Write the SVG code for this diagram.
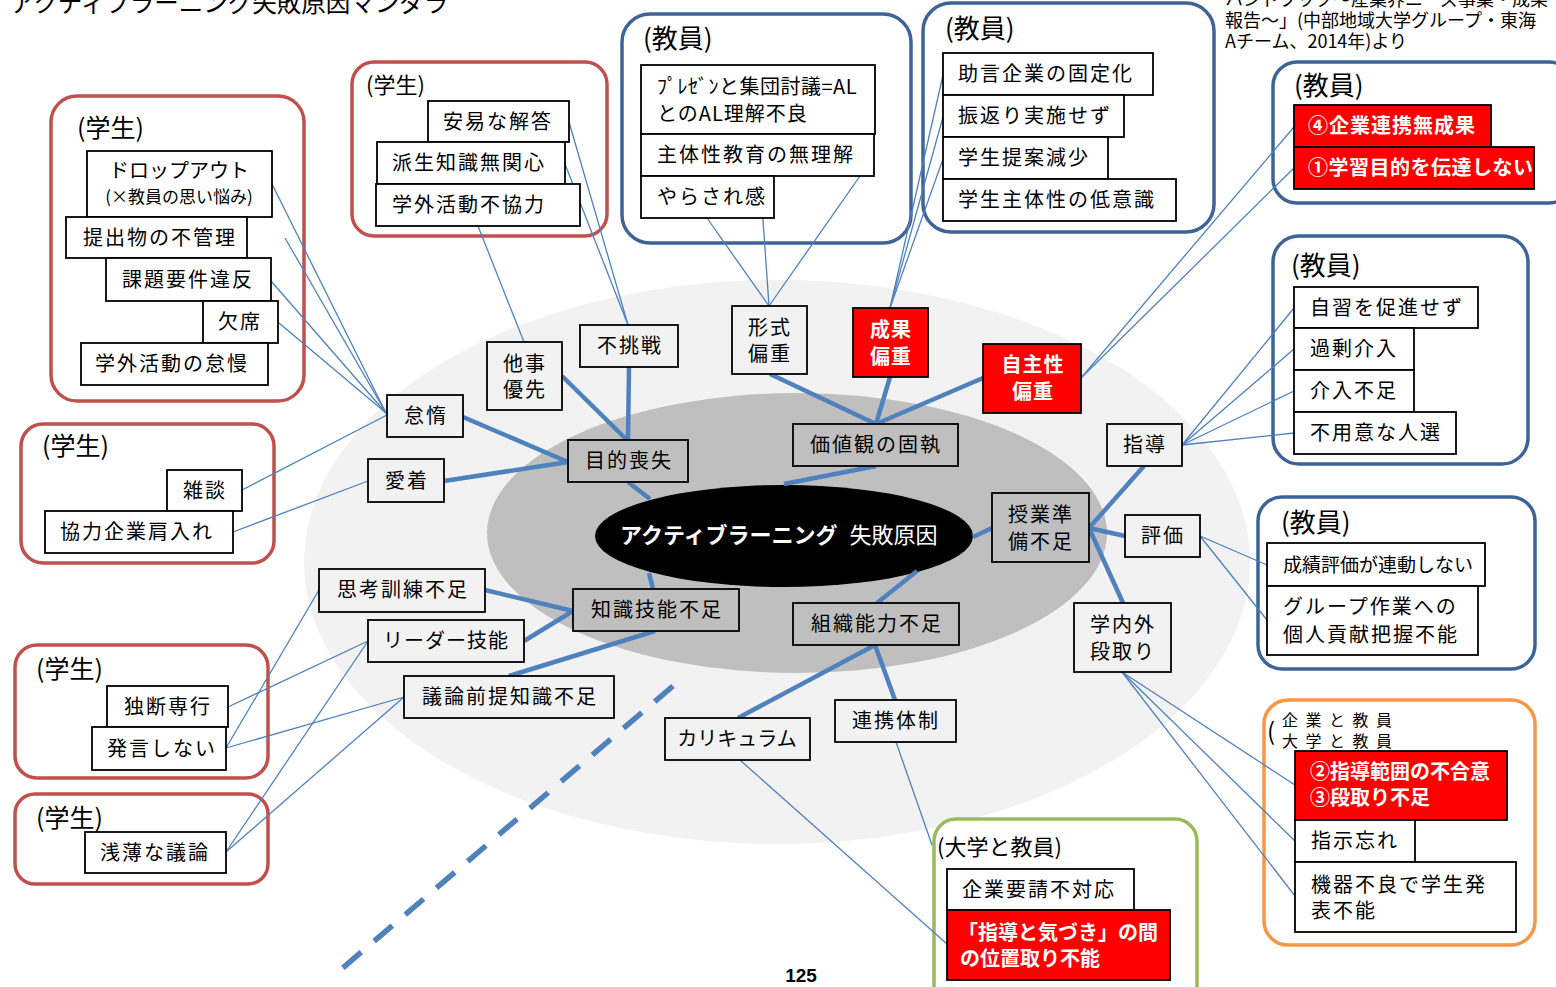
<svg xmlns="http://www.w3.org/2000/svg" width="1556" height="987" viewBox="0 0 1556 987">
<style>
text{font-family:"Noto Sans CJK JP","Noto Sans CJK SC",sans-serif;fill:#000}
.t{font-size:20px;letter-spacing:2px}
.m{text-anchor:middle}
.lbl{font-size:25px}
.b{stroke:#000;stroke-width:1.8}
.in{fill:#bfbfbf}
.out{fill:#f2f2f2}
.wh{fill:#fff}
.rd{fill:#ff0000}
.tw{fill:#fff;font-weight:bold;letter-spacing:1px}
.frR{fill:#fff;stroke:#c0504d;stroke-width:3.5}
.frB{fill:#fff;stroke:#3e6497;stroke-width:3.5}
.frO{fill:#fff;stroke:#f79646;stroke-width:3.5}
.frG{fill:#fff;stroke:#9bbb59;stroke-width:3.5}
.thick line{stroke:#4f81bd;stroke-width:4.5}
.thin line{stroke:#4f81bd;stroke-width:1.3}
</style>
<rect width="1556" height="987" fill="#fff"/>
<text x="10" y="12" style="font-size:24.5px">アクティブラーニング失敗原因マンダラ</text>
<g id="source" style="font-size:18px">
<text x="1225" y="6">ハンドブック～産業界ニーズ事業・成果</text>
<text x="1225" y="27">報告～」(中部地域大学グループ・東海</text>
<text x="1225" y="48">Aチーム、2014年)より</text>
</g>
<g id="background">
<ellipse cx="777" cy="562" rx="473" ry="282" fill="#f2f2f2"/>
<ellipse cx="797" cy="533" rx="310" ry="140" fill="#bfbfbf"/>
</g>
<g id="frames">
<rect class="frR" x="51" y="96" width="253" height="305" rx="26"/>
<text class="lbl" x="77" y="137">(学生)</text>
<rect class="frR" x="352" y="62" width="255" height="174" rx="22"/>
<text x="366" y="93" style="font-size:22px">(学生)</text>
<rect class="frR" x="21" y="424" width="253" height="139" rx="22"/>
<text class="lbl" x="42" y="455">(学生)</text>
<rect class="frR" x="15" y="645" width="253" height="133" rx="22"/>
<text class="lbl" x="36" y="678">(学生)</text>
<rect class="frR" x="15" y="794" width="253" height="90" rx="20"/>
<text class="lbl" x="36" y="827">(学生)</text>
<rect class="frB" x="622" y="14" width="289" height="229" rx="28"/>
<text class="lbl" x="643" y="48" style="font-size:26px">(教員)</text>
<rect class="frB" x="923" y="3" width="291" height="229" rx="28"/>
<text class="lbl" x="945" y="38" style="font-size:26px">(教員)</text>
<rect class="frB" x="1273" y="62" width="300" height="141" rx="24"/>
<text class="lbl" x="1294" y="95" style="font-size:26px">(教員)</text>
<rect class="frB" x="1273" y="236" width="255" height="228" rx="26"/>
<text class="lbl" x="1291" y="275" style="font-size:26px">(教員)</text>
<rect class="frB" x="1258" y="497" width="277" height="172" rx="24"/>
<text class="lbl" x="1281" y="532" style="font-size:26px">(教員)</text>
<rect class="frO" x="1264" y="700" width="271" height="245" rx="24"/>
<text x="1267" y="740" style="font-size:24px">(</text>
<text x="1282" y="726" style="font-size:16px;letter-spacing:7.5px">企業と教員</text>
<text x="1282" y="747" style="font-size:16px;letter-spacing:7.5px">大学と教員</text>
<rect class="frG" x="934" y="819" width="263" height="190" rx="22"/>
<text x="937" y="855" style="font-size:22px">(大学と教員)</text>
</g>
<g id="core">
<ellipse cx="784" cy="536" rx="189" ry="51" fill="#000"/>
<text x="620" y="543" style="font-size:22px;fill:#fff"><tspan style="font-weight:bold;fill:#fff">アクティブラーニング</tspan><tspan style="fill:#fff" dx="12">失敗原因</tspan></text>
</g>
<g id="connectors">
<g class="thin">
<line x1="272" y1="184" x2="386" y2="413"/>
<line x1="285" y1="238" x2="386" y2="413"/>
<line x1="271" y1="281" x2="386" y2="413"/>
<line x1="279" y1="323" x2="386" y2="413"/>
<line x1="242" y1="490" x2="387" y2="415"/>
<line x1="233" y1="532" x2="368" y2="481"/>
<line x1="478" y1="226" x2="524" y2="342"/>
<line x1="569" y1="122" x2="628" y2="325"/>
<line x1="565" y1="164" x2="628" y2="325"/>
<line x1="757" y1="134" x2="769" y2="306"/>
<line x1="874" y1="156" x2="769" y2="306"/>
<line x1="707" y1="218" x2="769" y2="306"/>
<line x1="943" y1="75" x2="890" y2="308"/>
<line x1="943" y1="117" x2="890" y2="308"/>
<line x1="943" y1="159" x2="890" y2="308"/>
<line x1="1081" y1="378" x2="1294" y2="127"/>
<line x1="1081" y1="378" x2="1294" y2="168"/>
<line x1="1182" y1="445" x2="1294" y2="308"/>
<line x1="1182" y1="445" x2="1294" y2="349"/>
<line x1="1182" y1="445" x2="1294" y2="391"/>
<line x1="1182" y1="445" x2="1294" y2="433"/>
<line x1="1200" y1="536" x2="1267" y2="565"/>
<line x1="1200" y1="536" x2="1267" y2="620"/>
<line x1="1122" y1="672" x2="1295" y2="785"/>
<line x1="1122" y1="672" x2="1295" y2="841"/>
<line x1="1122" y1="672" x2="1295" y2="896"/>
<line x1="896" y1="742" x2="932" y2="845"/>
<line x1="740" y1="760" x2="947" y2="944"/>
<line x1="228" y1="707" x2="368" y2="641"/>
<line x1="226" y1="748" x2="319" y2="590"/>
<line x1="226" y1="748" x2="404" y2="697"/>
<line x1="226" y1="852" x2="368" y2="641"/>
<line x1="226" y1="852" x2="404" y2="697"/>
</g>
<g class="thick">
<line x1="463" y1="417" x2="568" y2="462"/>
<line x1="444" y1="481" x2="568" y2="462"/>
<line x1="562" y1="376" x2="627" y2="440"/>
<line x1="629" y1="367" x2="628" y2="440"/>
<line x1="628" y1="482" x2="650" y2="499"/>
<line x1="485" y1="590" x2="573" y2="611"/>
<line x1="524" y1="641" x2="573" y2="611"/>
<line x1="655" y1="631" x2="509" y2="676"/>
<line x1="653" y1="589" x2="649" y2="573"/>
<line x1="770" y1="374" x2="876" y2="424"/>
<line x1="890" y1="377" x2="876" y2="424"/>
<line x1="983" y1="378" x2="876" y2="424"/>
<line x1="876" y1="466" x2="784" y2="484"/>
<line x1="992" y1="528" x2="973" y2="537"/>
<line x1="1144" y1="466" x2="1089" y2="528"/>
<line x1="1125" y1="536" x2="1089" y2="528"/>
<line x1="1123" y1="603" x2="1089" y2="528"/>
<line x1="877" y1="603" x2="917" y2="571"/>
<line x1="875" y1="645" x2="895" y2="700"/>
<line x1="875" y1="645" x2="738" y2="718"/>
<line x1="673" y1="686" x2="338" y2="972" style="stroke-width:5.5;stroke-dasharray:24 17"/>
</g>
</g>
<g id="n-mokuteki"><rect class="b in" x="568" y="440" width="120" height="42"/><text class="t m" x="629" y="468">目的喪失</text></g>
<g id="n-kachikan"><rect class="b in" x="793" y="424" width="165" height="42"/><text class="t m" x="876" y="452">価値観の固執</text></g>
<g id="n-jugyo"><rect class="b in" x="992" y="493" width="97" height="69"/><text class="t m" x="1041" y="522">授業準</text><text class="t m" x="1041" y="549">備不足</text></g>
<g id="n-soshiki"><rect class="b in" x="793" y="603" width="166" height="42"/><text class="t m" x="877" y="631">組織能力不足</text></g>
<g id="n-chishiki"><rect class="b in" x="573" y="589" width="166" height="42"/><text class="t m" x="657" y="617">知識技能不足</text></g>
<g id="n-taida"><rect class="b out" x="387" y="395" width="76" height="42"/><text class="t m" x="426" y="423">怠惰</text></g>
<g id="n-aichaku"><rect class="b out" x="368" y="459" width="76" height="43"/><text class="t m" x="407" y="488">愛着</text></g>
<g id="n-taji"><rect class="b out" x="487" y="342" width="75" height="68"/><text class="t m" x="525" y="371">他事</text><text class="t m" x="525" y="397">優先</text></g>
<g id="n-fuchosen"><rect class="b out" x="580" y="325" width="98" height="42"/><text class="t m" x="630" y="353">不挑戦</text></g>
<g id="n-keishiki"><rect class="b out" x="732" y="306" width="75" height="68"/><text class="t m" x="770" y="335">形式</text><text class="t m" x="770" y="361">偏重</text></g>
<g id="n-seika"><rect class="b rd" x="853" y="308" width="75" height="69"/><text class="t m tw" x="891" y="337">成果</text><text class="t m tw" x="891" y="364">偏重</text></g>
<g id="n-jishusei"><rect class="b rd" x="983" y="344" width="98" height="69"/><text class="t m tw" x="1033" y="372">自主性</text><text class="t m tw" x="1033" y="399">偏重</text></g>
<g id="n-shido"><rect class="b out" x="1107" y="424" width="75" height="42"/><text class="t m" x="1145" y="452">指導</text></g>
<g id="n-hyoka"><rect class="b out" x="1125" y="515" width="75" height="42"/><text class="t m" x="1163" y="543">評価</text></g>
<g id="n-gakunaigai"><rect class="b out" x="1074" y="603" width="97" height="69"/><text class="t m" x="1123" y="632">学内外</text><text class="t m" x="1123" y="659">段取り</text></g>
<g id="n-renkei"><rect class="b out" x="835" y="700" width="121" height="42"/><text class="t m" x="896" y="728">連携体制</text></g>
<g id="n-curriculum"><rect class="b out" x="665" y="718" width="145" height="42"/><text class="t m" x="737" y="746" style="letter-spacing:0">カリキュラム</text></g>
<g id="n-shiko"><rect class="b out" x="319" y="569" width="166" height="43"/><text class="t m" x="403" y="597">思考訓練不足</text></g>
<g id="n-leader"><rect class="b out" x="368" y="620" width="156" height="42"/><text class="t m" x="446" y="648" style="letter-spacing:1px">リーダー技能</text></g>
<g id="n-giron"><rect class="b out" x="404" y="676" width="210" height="42"/><text class="t m" x="510" y="704">議論前提知識不足</text></g>
<g id="s1-items">
<rect class="b wh" x="87" y="151" width="185" height="66"/><text class="t m" x="179" y="178" style="letter-spacing:0">ドロップアウト</text><text class="m" x="179" y="203" style="font-size:17px">(×教員の思い悩み)</text>
<rect class="b wh" x="66" y="217" width="181" height="41"/><text class="t" x="83" y="245">提出物の不管理</text>
<rect class="b wh" x="106" y="258" width="165" height="43"/><text class="t" x="122" y="287">課題要件違反</text>
<rect class="b wh" x="203" y="301" width="75" height="42"/><text class="t" x="218" y="329">欠席</text>
<rect class="b wh" x="81" y="343" width="187" height="42"/><text class="t" x="95" y="371">学外活動の怠慢</text>
</g>
<g id="s2-items">
<rect class="b wh" x="428" y="101" width="141" height="41"/><text class="t" x="443" y="129">安易な解答</text>
<rect class="b wh" x="377" y="142" width="188" height="42"/><text class="t" x="392" y="170">派生知識無関心</text>
<rect class="b wh" x="376" y="184" width="204" height="42"/><text class="t" x="392" y="212">学外活動不協力</text>
</g>
<g id="s3-items">
<rect class="b wh" x="167" y="470" width="75" height="41"/><text class="t m" x="205" y="498">雑談</text>
<rect class="b wh" x="45" y="511" width="188" height="42"/><text class="t" x="60" y="539">協力企業肩入れ</text>
</g>
<g id="s4-items">
<rect class="b wh" x="107" y="686" width="121" height="41"/><text class="t m" x="168" y="714">独断専行</text>
<rect class="b wh" x="92" y="727" width="134" height="43"/><text class="t" x="107" y="756">発言しない</text>
</g>
<g id="s5-items">
<rect class="b wh" x="85" y="832" width="141" height="41"/><text class="t" x="100" y="860">浅薄な議論</text>
</g>
<g id="t1-items">
<rect class="b wh" x="641" y="65" width="234" height="69"/><text class="t" x="657" y="94" style="letter-spacing:0.5px">ﾌﾟﾚｾﾞﾝと集団討議=AL</text><text class="t" x="657" y="121" style="letter-spacing:1px">とのAL理解不良</text>
<rect class="b wh" x="641" y="134" width="233" height="42"/><text class="t" x="657" y="162">主体性教育の無理解</text>
<rect class="b wh" x="641" y="176" width="133" height="42"/><text class="t" x="657" y="204">やらされ感</text>
</g>
<g id="t2-items">
<rect class="b wh" x="943" y="53" width="210" height="42"/><text class="t" x="958" y="81">助言企業の固定化</text>
<rect class="b wh" x="943" y="95" width="181" height="42"/><text class="t" x="958" y="123">振返り実施せず</text>
<rect class="b wh" x="943" y="137" width="165" height="42"/><text class="t" x="958" y="165">学生提案減少</text>
<rect class="b wh" x="943" y="179" width="233" height="42"/><text class="t" x="958" y="207">学生主体性の低意識</text>
</g>
<g id="t3-items">
<rect class="b rd" x="1294" y="105" width="197" height="42"/><text class="t tw" x="1308" y="133">④企業連携無成果</text>
<rect class="b rd" x="1294" y="147" width="240" height="42"/><text class="t tw" x="1308" y="175" style="letter-spacing:0.5px">①学習目的を伝達しない</text>
</g>
<g id="t4-items">
<rect class="b wh" x="1294" y="287" width="184" height="41"/><text class="t" x="1310" y="315">自習を促進せず</text>
<rect class="b wh" x="1294" y="328" width="120" height="42"/><text class="t" x="1310" y="356">過剰介入</text>
<rect class="b wh" x="1294" y="370" width="120" height="42"/><text class="t" x="1310" y="398">介入不足</text>
<rect class="b wh" x="1294" y="412" width="162" height="42"/><text class="t" x="1310" y="440">不用意な人選</text>
</g>
<g id="t5-items">
<rect class="b wh" x="1267" y="543" width="218" height="43"/><text class="t" x="1283" y="572" style="font-size:19px;letter-spacing:0">成績評価が連動しない</text>
<rect class="b wh" x="1267" y="586" width="211" height="69"/><text class="t" x="1283" y="614">グループ作業への</text><text class="t" x="1283" y="642">個人貢献把握不能</text>
</g>
<g id="o-items">
<rect class="b rd" x="1295" y="751" width="212" height="69"/><text class="t tw" x="1310" y="779" style="letter-spacing:0">②指導範囲の不合意</text><text class="t tw" x="1310" y="805" style="letter-spacing:0">③段取り不足</text>
<rect class="b wh" x="1295" y="820" width="120" height="42"/><text class="t" x="1311" y="848">指示忘れ</text>
<rect class="b wh" x="1295" y="862" width="221" height="70"/><text class="t" x="1311" y="892">機器不良で学生発</text><text class="t" x="1311" y="918">表不能</text>
</g>
<g id="g-items">
<rect class="b wh" x="947" y="869" width="187" height="41"/><text class="t" x="962" y="897">企業要請不対応</text>
<rect class="b rd" x="947" y="910" width="223" height="70"/><text class="t tw" x="958" y="940" style="letter-spacing:0">「指導と気づき」の間</text><text class="t tw" x="960" y="966" style="letter-spacing:0">の位置取り不能</text>
</g>
<text x="801" y="982" style="font-family:'Liberation Sans',sans-serif;font-size:19px;font-weight:bold;text-anchor:middle">125</text>
</svg>
